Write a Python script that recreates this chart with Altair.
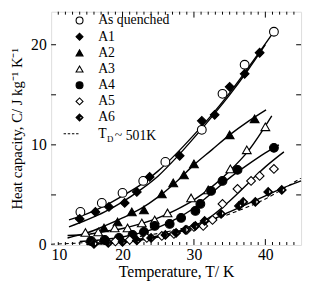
import altair as alt
import pandas as pd

# ---------------- values ----------------
series = ["As quenched", "A1", "A2", "A3", "A4", "A5", "A6"]
td_label = "T"
td_sub = "D"
td_rest = "~ 501K"

aq_T = [14.1, 17.1, 20.0, 22.9, 26.0, 31.1, 34.0, 37.1, 41.2]
aq_C = [3.3, 4.2, 5.2, 6.4, 8.3, 11.5, 15.1, 18.0, 21.3]
a1_T = [14.0, 16.2, 18.1, 20.3, 22.0, 23.8, 28.0, 31.1, 32.9, 35.0, 37.1, 39.2]
a1_C = [2.6, 3.3, 3.8, 4.2, 5.3, 6.8, 8.9, 12.4, 13.0, 15.8, 17.1, 19.2]
a2_T = [17.4, 19.3, 21.3, 23.0, 25.5, 27.1, 28.6, 30.0, 35.0, 38.5]
a2_C = [1.7, 2.3, 3.3, 3.5, 5.1, 6.2, 7.0, 8.1, 11.0, 12.6]
a3_T = [14.8, 16.6, 18.9, 20.7, 22.7, 24.5, 26.3, 29.6, 32.0, 35.1, 37.4, 40.0]
a3_C = [1.25, 1.3, 1.7, 1.7, 2.2, 2.5, 3.2, 4.7, 5.5, 7.6, 9.5, 11.8]
a4_T = [15.6, 17.5, 19.5, 21.4, 23.0, 24.5, 26.6, 28.2, 30.2, 30.9, 32.4, 34.0, 36.1, 41.2]
a4_C = [0.4, 0.5, 0.7, 1.0, 1.3, 1.9, 2.1, 2.7, 3.4, 4.1, 5.4, 6.4, 7.5, 9.7]
a5_T = [16.0, 19.0, 21.0, 23.4, 25.5, 27.2, 29.0, 30.0, 31.3, 32.6, 34.0, 36.1, 38.0, 39.2, 41.2]
a5_C = [0.2, 0.35, 0.5, 0.7, 0.9, 1.1, 1.5, 1.8, 1.9, 2.5, 4.1, 5.6, 6.4, 6.9, 7.6]
a6_T = [16.0, 18.0, 20.0, 22.0, 24.0, 26.0, 27.5, 28.8, 30.2, 31.5, 33.8, 36.3, 36.9, 38.6, 40.4, 42.3]
a6_C = [0.1, 0.2, 0.3, 0.45, 0.7, 1.0, 1.2, 1.5, 1.9, 2.4, 3.1, 3.9, 4.3, 4.3, 5.3, 5.5]

# fitted curves
aq_fit_T = [12.5, 15, 17.5, 20, 22.5, 25, 27.5, 30, 32.5, 35, 37.5, 41.2]
aq_fit_C = [2.5, 3.1, 3.9, 4.9, 6.0, 7.4, 9.1, 11.0, 13.0, 15.2, 17.6, 21.3]
a1_fit_T = [12.5, 15, 17.5, 20, 22.5, 25, 27.5, 30, 32.5, 35, 37.5, 40.0]
a1_fit_C = [1.8, 2.5, 3.3, 4.3, 5.5, 6.9, 8.7, 10.7, 12.8, 15.0, 17.4, 20.0]
a2_fit_T = [12.3, 15, 17.5, 20, 22.5, 25, 27.5, 30, 32.5, 35, 37.5, 40.1]
a2_fit_C = [0.7, 1.2, 1.9, 2.7, 3.6, 4.8, 6.3, 8.0, 9.5, 11.0, 12.3, 13.5]
a3_fit_T = [12.3, 15, 17.5, 20, 22.5, 25, 27.5, 30, 32.5, 35, 37.5, 40.9]
a3_fit_C = [0.95, 1.05, 1.35, 1.65, 2.1, 2.7, 3.5, 4.5, 5.8, 7.4, 9.3, 12.9]
a4_fit_T = [14, 17.5, 20, 22.5, 25, 27.5, 30, 32.5, 35, 37.5, 40, 41.9]
a4_fit_C = [0.35, 0.55, 0.8, 1.2, 1.75, 2.6, 3.7, 5.2, 6.7, 8.0, 9.2, 10.0]
a5_fit_T = [16, 20, 22.5, 25, 27.5, 30, 32.5, 35, 37.5, 40, 42.6]
a5_fit_C = [0.15, 0.4, 0.6, 0.9, 1.3, 1.9, 2.9, 4.4, 6.1, 7.8, 9.3]
a6_fit_T = [15, 17.5, 20, 22.5, 25, 27.5, 30, 32.5, 35, 37.5, 40, 42.5, 45]
a6_fit_C = [0.05, 0.15, 0.3, 0.5, 0.8, 1.2, 1.75, 2.5, 3.3, 4.1, 4.9, 5.7, 6.4]
debye_T = [10, 15, 20, 25, 30, 35, 40, 42.5, 45]
debye_C = [0.08, 0.25, 0.6, 1.15, 1.95, 3.1, 4.6, 5.6, 6.7]

x_range = [10, 45]
y_range = [0, 23.3]
x_major = [10, 20, 30, 40]
x_minor = [t for t in range(11, 45) if t % 10 != 0]
y_ticks = [5, 10, 15, 20]
y_labels = [0, 10, 20]

# ---------------- tables ----------------
pts = []
for name, T, C in zip(series, [aq_T, a1_T, a2_T, a3_T, a4_T, a5_T, a6_T],
                      [aq_C, a1_C, a2_C, a3_C, a4_C, a5_C, a6_C]):
    pts += [{"T": t, "C": c, "s": name} for t, c in zip(T, C)]
pts = pd.DataFrame(pts)

fits = []
for name, T, C in zip(series,
                      [aq_fit_T, a1_fit_T, a2_fit_T, a3_fit_T, a4_fit_T, a5_fit_T, a6_fit_T],
                      [aq_fit_C, a1_fit_C, a2_fit_C, a3_fit_C, a4_fit_C, a5_fit_C, a6_fit_C]):
    fits += [{"T": t, "C": c, "s": name} for t, c in zip(T, C)]
fits = pd.DataFrame(fits)
debye = pd.DataFrame({"T": debye_T, "C": debye_C})

FONT = "Liberation Serif"

xscale = alt.Scale(domain=x_range, nice=False, zero=False)
yscale = alt.Scale(domain=y_range, nice=False, zero=False)
xaxis = alt.Axis(values=x_major, ticks=False, domain=False, grid=False,
                 labelFont=FONT, labelFontSize=16, labelPadding=2, labelColor="black",
                 title="Temperature, T/ K", titleFont=FONT, titleFontSize=16,
                 titleFontWeight="normal", titleColor="black", titlePadding=1)
yaxis = alt.Axis(values=y_labels, ticks=False, domain=False, grid=False,
                 labelFont=FONT, labelFontSize=16, labelPadding=5, labelColor="black",
                 title="Heat capacity,  C/ J kg\u207b\u00b9 K\u207b\u00b9", titleFont=FONT,
                 titleFontSize=15, titleFontWeight="normal", titleColor="black",
                 titlePadding=6)
X = alt.X("T:Q", scale=xscale, axis=xaxis)
Y = alt.Y("C:Q", scale=yscale, axis=yaxis)

half_diamond = "M0,-1L1,0L0,1L-1,0Z M0.1,-0.74L0.1,0.74L0.8,0Z"
dash_path = "M-4.6,0L-3.9,0 M-3.4,0L-2.7,0 M-2.2,0L-1.5,0 M-1.0,0L-0.3,0"
domain = series + [td_label]
shape_range = ["circle", "diamond", "triangle-up", "triangle-up", "circle",
               "diamond", half_diamond, dash_path]
fill_range = ["white", "black", "black", "white", "black", "white", "black", "black"]
stroke_range = ["black"] * len(domain)


def legend():
    return alt.Legend(title=None, orient="none", legendX=22, legendY=2,
                      symbolSize=50, symbolStrokeWidth=1.1,
                      labelFont=FONT, labelFontSize=14, labelColor="black",
                      labelOffset=12, rowPadding=2.5, padding=0)


lines = alt.Chart(fits).mark_line(color="black", strokeWidth=1.4,
                                  interpolate="monotone").encode(
    x=X, y=Y, detail="s:N")
dashed = alt.Chart(debye).mark_line(color="black", strokeWidth=1.1,
                                    strokeDash=[4, 3], interpolate="monotone").encode(
    x=X, y=Y)
points = alt.Chart(pts).mark_point(size=80, strokeWidth=1.1, opacity=1).encode(
    x=X, y=Y,
    shape=alt.Shape("s:N", scale=alt.Scale(domain=domain, range=shape_range), legend=legend()),
    fill=alt.Fill("s:N", scale=alt.Scale(domain=domain, range=fill_range), legend=legend()),
    stroke=alt.Stroke("s:N", scale=alt.Scale(domain=domain, range=stroke_range), legend=legend()),
)

xmaj = pd.DataFrame({"T": x_major[1:]})
xmin = pd.DataFrame({"T": x_minor})
yt = pd.DataFrame({"C": y_ticks})


def xticks(df, at, off):
    return alt.Chart(df).mark_rule(color="black", strokeWidth=1, y2Offset=off).encode(
        x=X, y=alt.datum(at, scale=yscale), y2=alt.datum(at))


def yticks(df, at, off):
    return alt.Chart(df).mark_rule(color="black", strokeWidth=1, x2Offset=off).encode(
        y=Y, x=alt.datum(at, scale=xscale), x2=alt.datum(at))


ticks = [xticks(xmaj, y_range[0], -6), xticks(xmin, y_range[0], -3),
         xticks(xmaj, y_range[1], 6), xticks(xmin, y_range[1], 3),
         yticks(yt, x_range[0], 5), yticks(yt, x_range[1], -5)]

sub_d = alt.Chart(pd.DataFrame({"t": [td_sub]})).mark_text(
    font=FONT, fontSize=9, align="left", baseline="middle", color="black").encode(
    text="t:N", x=alt.value(57), y=alt.value(130))
rest = alt.Chart(pd.DataFrame({"t": [td_rest]})).mark_text(
    font=FONT, fontSize=14, align="left", baseline="middle", color="black").encode(
    text="t:N", x=alt.value(65), y=alt.value(127))

chart = alt.layer(*ticks, dashed, lines, points, sub_d, rest).properties(
    width=302, height=274,
    autosize=alt.AutoSizeParams(type="fit", contains="padding"),
    padding={"left": 2, "top": 0, "right": 0, "bottom": 0},
).configure_view(stroke="black", strokeWidth=1.2).configure(background="white")

chart.save("out.html", embed_options={"renderer": "svg", "actions": False})
